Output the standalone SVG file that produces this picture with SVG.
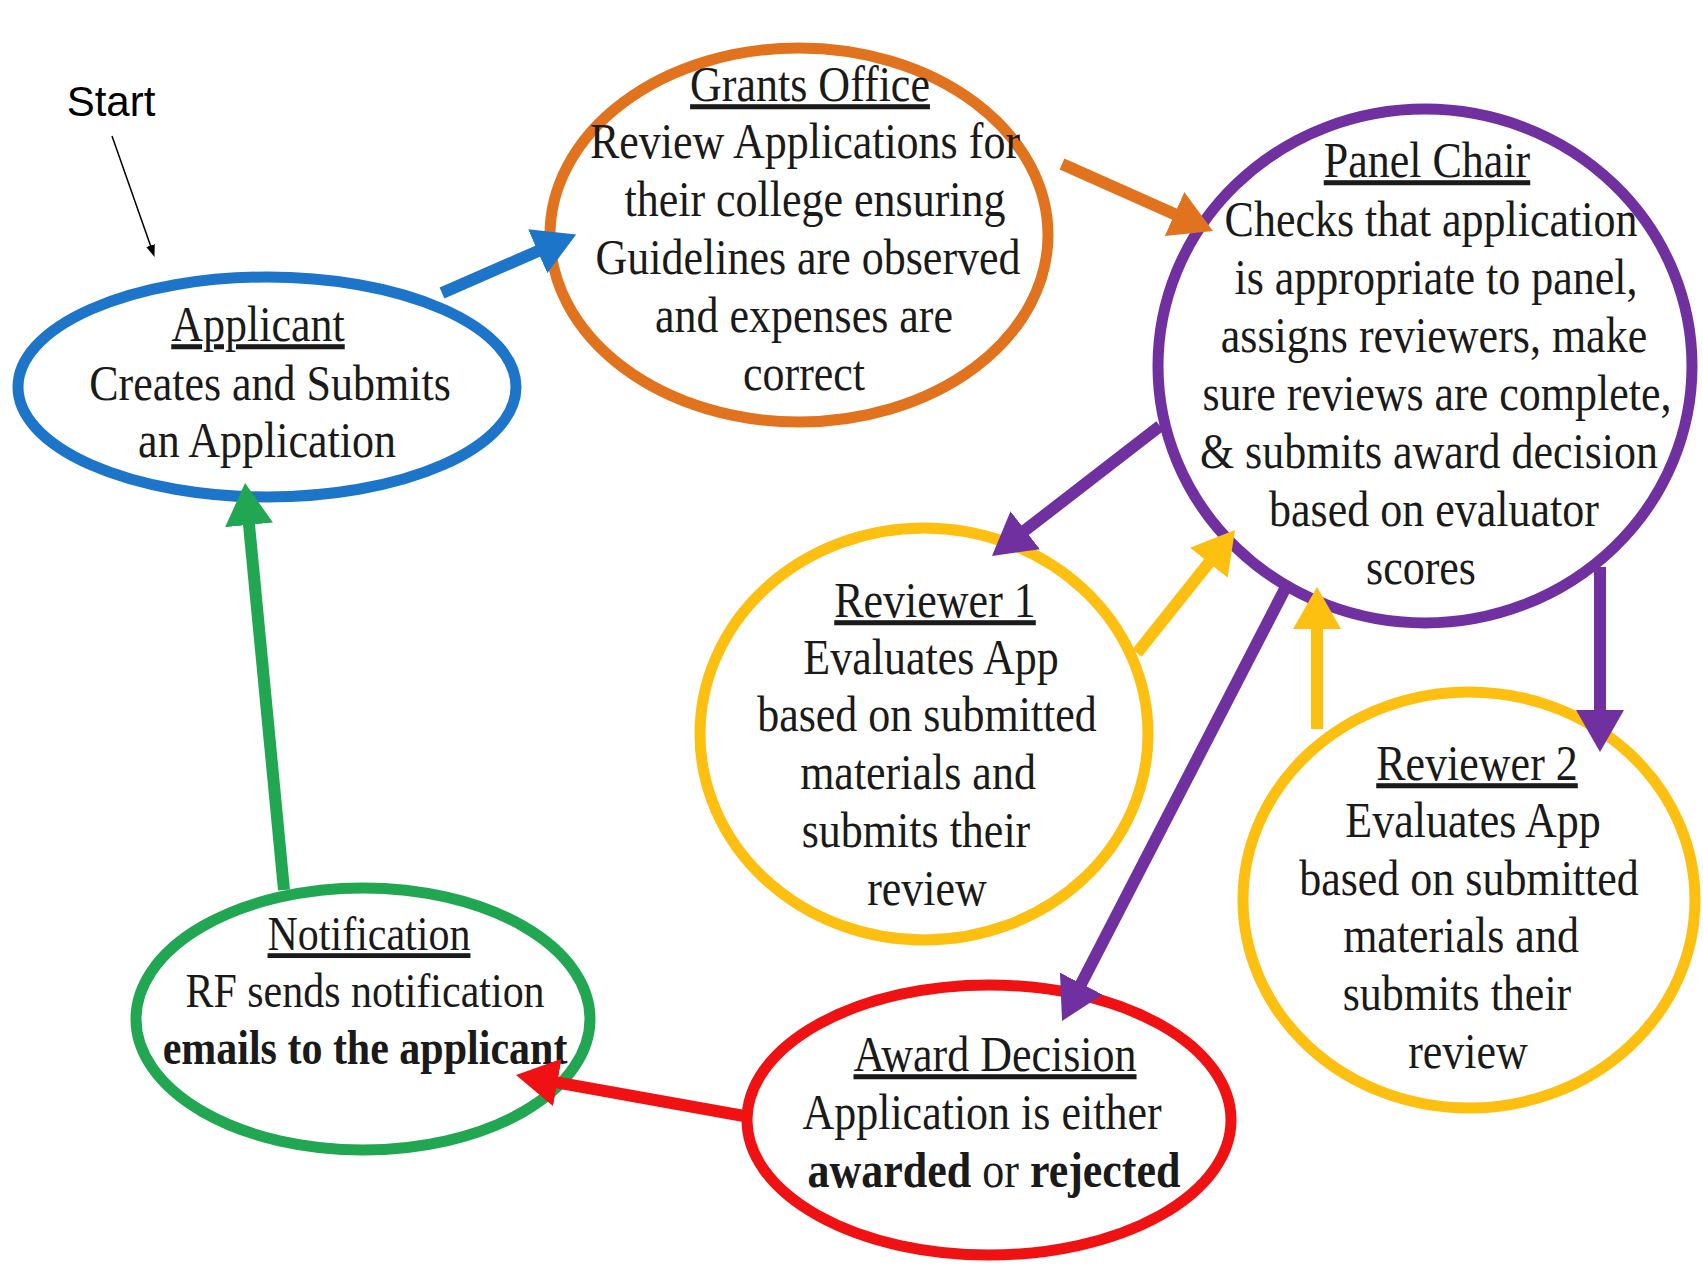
<svg xmlns="http://www.w3.org/2000/svg" width="1703" height="1269" viewBox="0 0 1703 1269">
<style>
.n{fill:#fff;stroke-width:11}
.t{font-family:"Liberation Serif","Times New Roman",serif;font-size:44px;fill:#1a1a1a;text-anchor:middle}
.s{font-size:42px}
.h{text-decoration:underline}
.b{font-weight:bold}
.c{fill:none;stroke-width:12}
</style>
<defs>
<marker id="mB" markerWidth="3.5" markerHeight="4" refX="1" refY="2" orient="auto" markerUnits="strokeWidth"><path d="M0,0 L3.5,2 L0,4 z" fill="#1C75C8"/></marker>
<marker id="mO" markerWidth="3.5" markerHeight="4" refX="1" refY="2" orient="auto" markerUnits="strokeWidth"><path d="M0,0 L3.5,2 L0,4 z" fill="#E2731E"/></marker>
<marker id="mP" markerWidth="3.5" markerHeight="4" refX="1" refY="2" orient="auto" markerUnits="strokeWidth"><path d="M0,0 L3.5,2 L0,4 z" fill="#7030A0"/></marker>
<marker id="mY" markerWidth="3.5" markerHeight="4" refX="1" refY="2" orient="auto" markerUnits="strokeWidth"><path d="M0,0 L3.5,2 L0,4 z" fill="#FDBF10"/></marker>
<marker id="mR" markerWidth="3.5" markerHeight="4" refX="1" refY="2" orient="auto" markerUnits="strokeWidth"><path d="M0,0 L3.5,2 L0,4 z" fill="#F01212"/></marker>
<marker id="mG" markerWidth="3.5" markerHeight="4" refX="1" refY="2" orient="auto" markerUnits="strokeWidth"><path d="M0,0 L3.5,2 L0,4 z" fill="#21A651"/></marker>
<marker id="mK" markerWidth="8" markerHeight="6" refX="1" refY="3" orient="auto" markerUnits="strokeWidth"><path d="M0,0 L8,3 L0,6 z" fill="#000"/></marker>
</defs>
<rect width="1703" height="1269" fill="#fff"/>

<g id="start">
<text x="111" y="116" style="font-family:'Liberation Sans',Arial,sans-serif;font-size:42px;fill:#000;text-anchor:middle">Start</text>
</g>

<g id="applicant">
<ellipse class="n" cx="267" cy="387" rx="249" ry="110" stroke="#1C75C8"/>
<text class="t h" transform="translate(258 341) scale(1 1.15)">Applicant</text>
<text class="t" transform="translate(270 400) scale(1 1.15)">Creates and Submits</text>
<text class="t" transform="translate(267 457) scale(1 1.15)">an Application</text>
</g>

<g id="grants-office">
<ellipse class="n" cx="799" cy="235" rx="249" ry="187" stroke="#E2731E"/>
<text class="t h" transform="translate(810 101) scale(1 1.15)">Grants Office</text>
<text class="t" transform="translate(805 158) scale(1 1.15)">Review Applications for</text>
<text class="t" transform="translate(815 216) scale(1 1.15)">their college ensuring</text>
<text class="t" transform="translate(808 274) scale(1 1.15)">Guidelines are observed</text>
<text class="t" transform="translate(804 332) scale(1 1.15)">and expenses are</text>
<text class="t" transform="translate(804 390) scale(1 1.15)">correct</text>
</g>

<g id="panel-chair">
<ellipse class="n" cx="1425" cy="366" rx="267" ry="257" stroke="#7030A0"/>
<text class="t h" transform="translate(1427 177) scale(1 1.15)">Panel Chair</text>
<text class="t" transform="translate(1431 236) scale(1 1.15)">Checks that application</text>
<text class="t" transform="translate(1436 294) scale(1 1.15)">is appropriate to panel,</text>
<text class="t" transform="translate(1434 352) scale(1 1.15)">assigns reviewers, make</text>
<text class="t" transform="translate(1437 410) scale(1 1.15)">sure reviews are complete,</text>
<text class="t" transform="translate(1429 468) scale(1 1.15)">&amp; submits award decision</text>
<text class="t" transform="translate(1434 526) scale(1 1.15)">based on evaluator</text>
<text class="t" transform="translate(1421 584) scale(1 1.15)">scores</text>
</g>

<g id="reviewer-1">
<ellipse class="n" cx="924" cy="734" rx="224" ry="206" stroke="#FDBF10"/>
<text class="t h" transform="translate(935 617) scale(1 1.15)">Reviewer 1</text>
<text class="t" transform="translate(931 674) scale(1 1.15)">Evaluates App</text>
<text class="t" transform="translate(927 731) scale(1 1.15)">based on submitted</text>
<text class="t" transform="translate(918 789) scale(1 1.15)">materials and</text>
<text class="t" transform="translate(916 847) scale(1 1.15)">submits their</text>
<text class="t" transform="translate(927 905) scale(1 1.15)">review</text>
</g>

<g id="reviewer-2">
<ellipse class="n" cx="1469" cy="900" rx="226" ry="208" stroke="#FDBF10"/>
<text class="t h" transform="translate(1477 780) scale(1 1.15)">Reviewer 2</text>
<text class="t" transform="translate(1473 837) scale(1 1.15)">Evaluates App</text>
<text class="t" transform="translate(1469 895) scale(1 1.15)">based on submitted</text>
<text class="t" transform="translate(1461 952) scale(1 1.15)">materials and</text>
<text class="t" transform="translate(1457 1010) scale(1 1.15)">submits their</text>
<text class="t" transform="translate(1468 1068) scale(1 1.15)">review</text>
</g>

<g id="notification">
<ellipse class="n" cx="363" cy="1019" rx="227" ry="131" stroke="#21A651"/>
<text class="t s h" transform="translate(369 950) scale(1 1.15)">Notification</text>
<text class="t s" transform="translate(365 1007) scale(1 1.15)">RF sends notification</text>
<text class="t s b" transform="translate(365 1064) scale(1 1.15)">emails to the applicant</text>
</g>

<g id="award-decision">
<ellipse class="n" cx="989" cy="1120" rx="242" ry="135" stroke="#F01212"/>
<text class="t h" transform="translate(995 1071) scale(1 1.15)">Award Decision</text>
<text class="t" transform="translate(982 1129) scale(1 1.15)">Application is either</text>
<text class="t" transform="translate(994 1187) scale(1 1.15)"><tspan class="b">awarded</tspan> or <tspan class="b">rejected</tspan></text>
</g>

<g id="connectors">
<line x1="112" y1="136" x2="151" y2="247" stroke="#000" stroke-width="1.5" marker-end="url(#mK)"/>
<line class="c" x1="442" y1="293" x2="548.7" y2="246.4" stroke="#1C75C8" stroke-width="13" marker-end="url(#mB)"/>
<line class="c" x1="1062" y1="164" x2="1185.5" y2="218.9" stroke="#E2731E" marker-end="url(#mO)"/>
<line class="c" x1="1160" y1="426" x2="1015.7" y2="537.6" stroke="#7030A0" marker-end="url(#mP)"/>
<line class="c" x1="1137" y1="653" x2="1216.3" y2="553.4" stroke="#FDBF10" marker-end="url(#mY)"/>
<line class="c" x1="1288" y1="583" x2="1075.8" y2="994.3" stroke="#7030A0" marker-end="url(#mP)"/>
<line class="c" x1="1317" y1="729" x2="1317" y2="617" stroke="#FDBF10" marker-end="url(#mY)"/>
<line class="c" x1="1600" y1="567" x2="1600" y2="722" stroke="#7030A0" marker-end="url(#mP)"/>
<line class="c" x1="744" y1="1116" x2="545.5" y2="1080.4" stroke="#F01212" marker-end="url(#mR)"/>
<line class="c" x1="284" y1="890" x2="247.9" y2="512.9" stroke="#21A651" marker-end="url(#mG)"/>
</g>
</svg>
